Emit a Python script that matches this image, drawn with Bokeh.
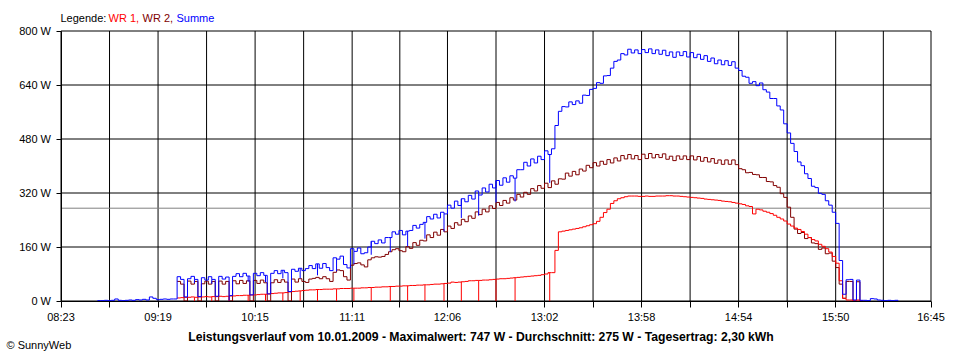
import numpy as np
from bokeh.plotting import figure
from bokeh.models import Range1d, FixedTicker, Label, ColumnDataSource, LinearAxis
from bokeh.embed import file_html
from bokeh.resources import INLINE

# ---------------- data ----------------
x_tick_labels = ["08:23", "09:19", "10:15", "11:11", "12:06", "13:02",
                 "13:58", "14:54", "15:50", "16:45"]
y_tick_values = [0, 160, 320, 480, 640, 800]
y_tick_labels = ["0 W", "160 W", "320 W", "480 W", "640 W", "800 W"]

report_date = "10.01.2009"
max_w = 747
avg_w = 275
yield_kwh = "2,30"

# samples every 2 minutes; Summe from 08:44, WR 1 / WR 2 from 09:30
summe_start = "08:44"
wr_start = "09:30"
sample_step_min = 2

summe = [1, 1, 2, 1, 2, 6, 2, 1, 2, 3, 2, 4, 3, 5, 3, 12, 8, 4, 5, 6, 5, 6, 6,
         72, 64, 12, 66, 73, 64, 13, 69, 62, 72, 64, 14, 73, 65, 71, 16, 73, 81, 72, 82, 74, 18,
         82, 75, 84, 76, 21, 82, 90, 81, 91, 84, 28, 94, 88, 97, 90, 96,
         105, 96, 110, 97, 111, 99, 90, 128, 124, 133, 108, 98, 155, 147, 157, 140, 143,
         160, 177, 170, 181, 172, 188, 188, 205, 198, 209, 196, 207, 209, 224, 216, 227,
         233, 250, 243, 257, 246, 263,
         258, 284, 275, 296, 283, 303, 294, 313, 302, 326,
         314, 335, 323, 346, 335, 357, 343, 365, 352, 371,
         364, 389, 389, 411, 400, 421, 409, 429, 419, 445, 434, 451,
         520, 562, 576, 575, 590, 582, 593, 586, 610, 609, 627, 630, 647, 645, 667, 668,
         690, 710, 714, 733, 729, 746, 735, 744, 733, 745, 736, 747, 733, 744, 731, 743,
         727, 738, 722, 738, 727, 739, 723, 736, 721, 731, 716, 727, 710, 720, 703, 714,
         700, 712, 698, 709, 690, 683, 666, 663, 645, 650, 638, 646, 626, 619, 600, 600,
         578, 566, 525, 498, 467, 443, 412, 401, 377, 363, 340, 336, 319, 316, 297, 284,
         263, 230, 120, 20, 63, 64, 3, 62, 2, 2, 1, 7, 6, 3, 2, 1, 2, 1, 2, 1]

wr2 = [58, 50, 0, 59, 50, 58, 0, 51, 59, 50, 58, 0, 59, 50, 58, 0, 60, 51, 61, 52, 60, 0,
       61, 52, 62, 54, 0, 54, 63, 55, 63, 56, 0, 65, 56, 66, 58, 55,
       65, 67, 70, 66, 72, 66, 58, 85, 92, 90, 72, 62, 106, 111, 113, 107, 101,
       122, 128, 131, 130, 132, 138, 146, 152, 155, 149,
       146, 161, 156, 173, 165, 180, 178, 196, 188, 204, 195, 212, 205, 222, 215, 232,
       225, 242, 235, 252, 245, 264, 256, 272, 264, 282, 274, 292, 283, 298, 290, 306,
       299, 316, 308, 322, 316, 333, 326, 342, 334, 349, 336, 356,
       346, 362, 361, 379, 370, 384, 374, 391, 385, 402, 395, 410, 400, 414, 405, 419,
       409, 424, 415, 431, 421, 434, 421, 431, 419, 435, 422, 437, 424, 434, 425, 436,
       420, 429, 416, 430, 420, 430, 419, 430, 418, 428, 414, 425, 412, 422, 408, 418,
       405, 418, 405, 418,
       404, 392, 389, 380, 381, 375, 374, 366, 366, 354, 353, 342, 337, 318, 307, 278,
       248, 213, 200, 203, 185, 188, 172, 170, 153, 157, 140, 142, 118, 99, 50, 8,
       58, 58, 0, 57, 0, 0]

wr1 = [9, 10, 11, 11, 12, 11, 12, 12, 13, 12, 13, 13, 14, 13, 14, 15, 15, 16, 16, 17,
       17, 18, 18, 19, 20, 20, 21, 22, 23, 24, 24, 25, 27, 28, 29, 30, 31, 32,
       33, 33, 34, 34, 35, 35, 35, 36, 36, 37, 37, 37, 38, 38, 38, 39, 39, 40, 40, 41,
       41, 42, 42, 43, 43, 44, 44,
       45, 45, 46, 46, 47, 47, 48, 48, 49, 50, 50, 51, 52, 53, 56, 55, 56, 57, 58, 60,
       60, 61, 61, 62, 62, 63, 64, 65, 66, 66, 67, 68, 69, 70, 71, 72, 73, 74, 75, 76,
       78, 80, 84, 84,
       150, 205, 207, 209, 211, 213, 215, 217, 220, 223, 226, 229, 236, 248, 262, 272,
       289, 297, 303, 306, 309, 311, 311, 311, 310, 310, 311, 310, 310, 311, 311, 311,
       312, 312, 311, 311, 310, 309, 308, 307, 306, 305, 304, 302, 301, 300, 299, 298,
       296, 295, 294, 292,
       290, 288, 286, 282, 280, 258, 272, 270, 266, 263, 259, 254, 248, 243, 237, 228,
       222, 216, 212, 206, 198, 188, 182, 178, 168, 162, 155, 145, 132, 112, 60, 8,
       3, 3, 0, 3, 0, 0]

# short drop-outs of WR 1 (to 0 W), also visible as dips in Summe
wr1_dropouts = ["09:40", "09:50", "10:00", "10:11", "10:21", "10:31", "10:41", "10:51",
                "11:02", "11:12", "11:22", "11:33", "11:43", "11:53", "12:04", "12:14",
                "12:24", "12:34", "12:45", "13:05"]


def to_min(s):
    h, m = s.split(":")
    return int(h) * 60 + int(m)


x0 = to_min(x_tick_labels[0])
x1 = to_min(x_tick_labels[-1])
y0 = y_tick_values[0]
y1 = y_tick_values[-1]

s0 = to_min(summe_start)
w0 = to_min(wr_start)
t_summe = [s0 + sample_step_min * i for i in range(len(summe))]
t_wr1 = [w0 + sample_step_min * i for i in range(len(wr1))]
t_wr2 = [w0 + sample_step_min * i for i in range(len(wr2))]

drop_t = [to_min(s) for s in wr1_dropouts]
drop_r = [wr1[int((t - w0) // sample_step_min)] for t in drop_t]
drop_s = [summe[int((t - s0) // sample_step_min)] for t in drop_t]

major = [to_min(s) for s in x_tick_labels]
minor = [(a + b) / 2 for a, b in zip(major[:-1], major[1:])]

# ---------------- layout (canvas pixels) ----------------
W, H = 952, 352
PL, PR, PT, PB = 60.5, 930.5, 30.5, 300.5
xs = (x1 - x0) / (PR - PL)
ys = (y1 - y0) / (PB - PT)

FONT = "Liberation Sans"

p = figure(width=W, height=H,
           x_range=Range1d(x0 - PL * xs, x1 + (W - PR) * xs),
           y_range=Range1d(y0 - (H - PB) * ys, y1 + PT * ys),
           x_axis_location=None, y_axis_location=None,
           output_backend="svg", toolbar_location=None, title=None, min_border=0)
p.background_fill_color = "white"
p.border_fill_color = "white"
p.outline_line_color = None
p.grid.visible = False

# grid lines (inside the plot area only)
vx = sorted(major + minor)
p.segment(x0=vx, y0=[y0] * len(vx), x1=vx, y1=[y1] * len(vx),
          line_color="black", line_width=1)
p.segment(x0=[x0] * len(y_tick_values), y0=y_tick_values,
          x1=[x1] * len(y_tick_values), y1=y_tick_values,
          line_color="black", line_width=1)
# average line
p.segment(x0=[x0], y0=[avg_w], x1=[x1], y1=[avg_w], line_color="#808080", line_width=1)

# axes
xaxis = LinearAxis(ticker=FixedTicker(ticks=major, minor_ticks=minor),
                   fixed_location=y0, bounds=(x0, x1))
xaxis.major_label_overrides = {t: s for t, s in zip(major, x_tick_labels)}
xaxis.major_tick_out = 6
xaxis.major_tick_in = 0
xaxis.minor_tick_out = 6
xaxis.minor_tick_in = 0
xaxis.minor_tick_line_color = "black"
xaxis.major_tick_line_color = "black"
xaxis.axis_line_color = "black"
xaxis.major_label_standoff = 4
xaxis.major_label_text_font = FONT
xaxis.major_label_text_font_size = "11px"
xaxis.major_label_text_color = "black"
p.add_layout(xaxis, "below")

yaxis = LinearAxis(ticker=FixedTicker(ticks=y_tick_values),
                   fixed_location=x0, bounds=(y0, y1))
yaxis.major_label_overrides = {t: s for t, s in zip(y_tick_values, y_tick_labels)}
yaxis.major_tick_out = 5
yaxis.major_tick_in = 0
yaxis.minor_tick_line_color = None
yaxis.major_tick_line_color = "black"
yaxis.axis_line_color = "black"
yaxis.major_label_standoff = 5
yaxis.major_label_text_font = FONT
yaxis.major_label_text_font_size = "11px"
yaxis.major_label_text_color = "black"
p.add_layout(yaxis, "left")

# series
src_s = ColumnDataSource(dict(t=t_summe, v=summe))
src_1 = ColumnDataSource(dict(t=t_wr1, v=wr1))
src_2 = ColumnDataSource(dict(t=t_wr2, v=wr2))

p.step(x="t", y="v", source=src_2, mode="after", line_color="#800000", line_width=1)
p.step(x="t", y="v", source=src_1, mode="after", line_color="#FF0000", line_width=1)
p.segment(x0=drop_t, y0=[0] * len(drop_t), x1=drop_t, y1=drop_r,
          line_color="#FF0000", line_width=1)
p.step(x="t", y="v", source=src_s, mode="after", line_color="#0000FF", line_width=1)
p.segment(x0=drop_t, y0=[s - r for s, r in zip(drop_s, drop_r)], x1=drop_t, y1=drop_s,
          line_color="#0000FF", line_width=1)


# ---------------- texts ----------------
def at(px, py):
    """canvas pixel position -> data coordinates"""
    return (x0 + (px - PL) * xs, y0 + (PB - py) * ys)


for txt, col, px in [("Legende:", "black", 60), ("WR 1,", "#FF0000", 108),
                     ("WR 2,", "#800000", 142), ("Summe", "#0000FF", 176)]:
    lx, ly = at(px, 17)
    p.add_layout(Label(x=lx, y=ly, text=txt, text_color=col, text_font=FONT,
                       text_font_size="11px", text_baseline="middle", text_align="left"))

title = (f"Leistungsverlauf vom {report_date} - Maximalwert: {max_w} W - "
         f"Durchschnitt: {avg_w} W - Tagesertrag: {yield_kwh} kWh")
tx, ty = at(480.5, 336.5)
p.add_layout(Label(x=tx, y=ty, text=title, text_color="black", text_font=FONT,
                   text_font_size="12.2px", text_font_style="bold",
                   text_baseline="middle", text_align="center"))

cx, cy = at(6, 350)
p.add_layout(Label(x=cx, y=cy, text="\u00a9 SunnyWeb", text_color="black", text_font=FONT,
                   text_font_size="11px", text_baseline="bottom", text_align="left"))

open("out.html", "w").write(file_html(p, INLINE))
